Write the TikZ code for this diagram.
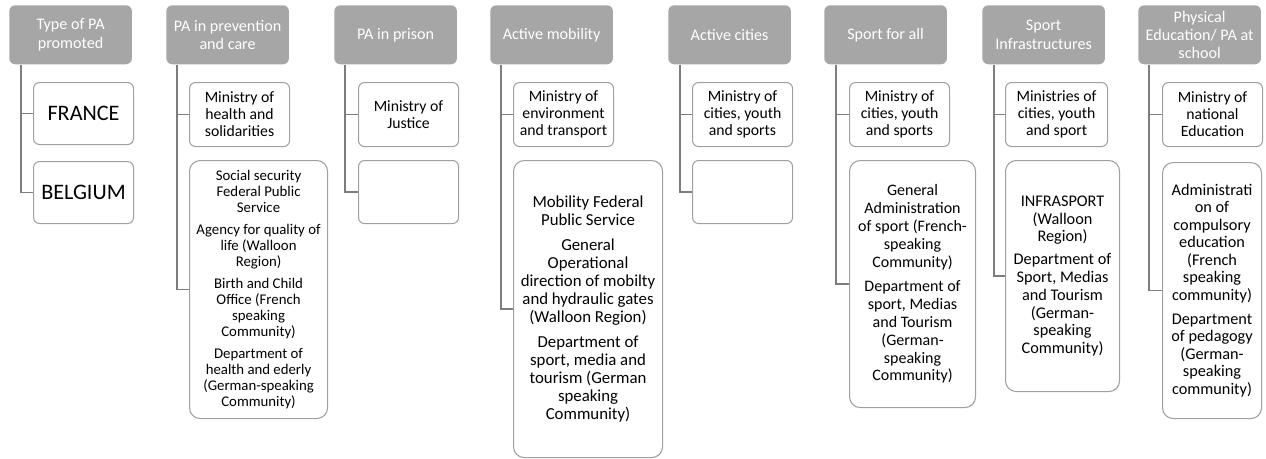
\documentclass[tikz,border=0pt]{standalone}
\usepackage{fontspec}
\setmainfont{Carlito}
\usetikzlibrary{positioning}
\definecolor{hdrgray}{RGB}{166,166,166}
\definecolor{boxgray}{RGB}{160,160,160}
\definecolor{linegray}{RGB}{125,125,125}

\begin{document}
\begin{tikzpicture}[x=0.75pt,y=-0.75pt]
    % Block styles
    \tikzstyle{hdr} = [rectangle, rounded corners=4.5pt, fill=hdrgray, text=white, align=center, anchor=north west, inner sep=1pt, minimum width=92pt, minimum height=44.25pt, font=\fontsize{12.1}{13.6}\selectfont]
    \tikzstyle{org} = [rectangle, rounded corners=4.5pt, draw=boxgray, line width=0.8pt, fill=white, align=center, anchor=north west, inner sep=1pt, minimum width=75pt, minimum height=48pt, font=\fontsize{11.8}{12.75}\selectfont]
    \tikzstyle{org_big} = [org, rounded corners=8pt, font=\fontsize{12}{13.4}\selectfont]
    \tikzstyle{conn} = [draw=linegray, line width=0.9pt]
    \useasboundingbox (0,0) rectangle (1266,458);
    % Headers
    \node[hdr] (type) at (9,5) {Type of PA\\promoted};
    \node[hdr] (care) at (166,5) {PA in prevention\\and care};
    \node[hdr] (prison) at (334,5) {PA in prison};
    \node[hdr] (mobility) at (490,5) {Active mobility};
    \node[hdr] (cities) at (668,5) {Active cities};
    \node[hdr] (sport) at (824,5) {Sport for all};
    \node[hdr] (infra) at (982,5) {Sport\\Infrastructures};
    \node[hdr] (school) at (1138,5) {Physical\\Education/ PA at\\school};
    % Countries
    \node[org, minimum height=46.5pt, font=\fontsize{16.6}{18}\selectfont] (france) at (33,82) {FRANCE};
    \node[org, minimum height=46.5pt, font=\fontsize{16.6}{18}\selectfont] (belgium) at (33,161) {BELGIUM};
    % France
    \node[org] (care_fr) at (189,82) {Ministry of\\health and\\solidarities};
    \node[org] (prison_fr) at (358,82) {Ministry of\\Justice};
    \node[org] (mobility_fr) at (513,82) {Ministry of\\environment\\and transport};
    \node[org] (cities_fr) at (692,82) {Ministry of\\cities, youth\\and sports};
    \node[org] (sport_fr) at (849,82) {Ministry of\\cities, youth\\and sports};
    \node[org, minimum width=76.5pt] (infra_fr) at (1005,82) {Ministries of\\cities, youth\\and sport};
    \node[org] (school_fr) at (1162,82) {Ministry of\\national\\Education};
    % Belgium
    \node[org_big, minimum width=103.5pt, minimum height=193.5pt, font=\fontsize{11.1}{12}\selectfont] (care_be) at (189,160) {Social security\\Federal Public\\Service\\[4.5pt]Agency for quality of\\life (Walloon\\Region)\\[4.5pt]Birth and Child\\Office (French\\speaking\\Community)\\[4.5pt]Department of\\health and ederly\\(German-speaking\\Community)};
    \node[org, minimum height=47.25pt] (prison_be) at (358,160) {};
    \node[org_big, minimum width=111.75pt, minimum height=222.75pt, font=\fontsize{12.6}{13.5}\selectfont] (mobility_be) at (513,160) {Mobility Federal\\Public Service\\[5.5pt]General\\Operational\\direction of mobilty\\and hydraulic gates\\(Walloon Region)\\[5.5pt]Department of\\sport, media and\\tourism (German\\speaking\\Community)};
    \node[org, minimum height=47.25pt] (cities_be) at (692,160) {};
    \node[org_big, minimum width=94.5pt, minimum height=185.25pt] (sport_be) at (849,160) {General\\Administration\\of sport (French-\\speaking\\Community)\\[5pt]Department of\\sport, Medias\\and Tourism\\(German-\\speaking\\Community)};
    \node[org_big, minimum width=85.5pt, minimum height=173.25pt, font=\fontsize{12.2}{13.3}\selectfont] (infra_be) at (1005,160) {INFRASPORT\\(Walloon\\Region)\\[4pt]Department of\\Sport, Medias\\and Tourism\\(German-\\speaking\\Community)};
    \node[org_big, minimum width=74.25pt, minimum height=192pt, font=\fontsize{12.2}{13.1}\selectfont] (school_be) at (1162,162) {Administrati\\on of\\compulsory\\education\\(French\\speaking\\community)\\[5pt]Department\\of pedagogy\\(German-\\speaking\\community)};
    % Connections
    \draw[conn] ([xshift=9pt]type.south west) |- (france.west);
    \draw[conn] ([xshift=9pt]type.south west) |- (belgium.west);
    \draw[conn] ([xshift=8.25pt]care.south west) |- (care_fr.west);
    \draw[conn] ([xshift=8.25pt]care.south west) |- (care_be.west);
    \draw[conn] ([xshift=8.25pt]prison.south west) |- (prison_fr.west);
    \draw[conn] ([xshift=8.25pt]prison.south west) |- (prison_be.west);
    \draw[conn] ([xshift=8.25pt]mobility.south west) |- (mobility_fr.west);
    \draw[conn] ([xshift=8.25pt]mobility.south west) |- (mobility_be.west);
    \draw[conn] ([xshift=9pt]cities.south west) |- (cities_fr.west);
    \draw[conn] ([xshift=9pt]cities.south west) |- (cities_be.west);
    \draw[conn] ([xshift=9pt]sport.south west) |- (sport_fr.west);
    \draw[conn] ([xshift=9pt]sport.south west) |- (sport_be.west);
    \draw[conn] ([xshift=9pt]infra.south west) |- (infra_fr.west);
    \draw[conn] ([xshift=9pt]infra.south west) |- (infra_be.west);
    \draw[conn] ([xshift=8.25pt]school.south west) |- (school_fr.west);
    \draw[conn] ([xshift=8.25pt]school.south west) |- (school_be.west);
\end{tikzpicture}
\end{document}
